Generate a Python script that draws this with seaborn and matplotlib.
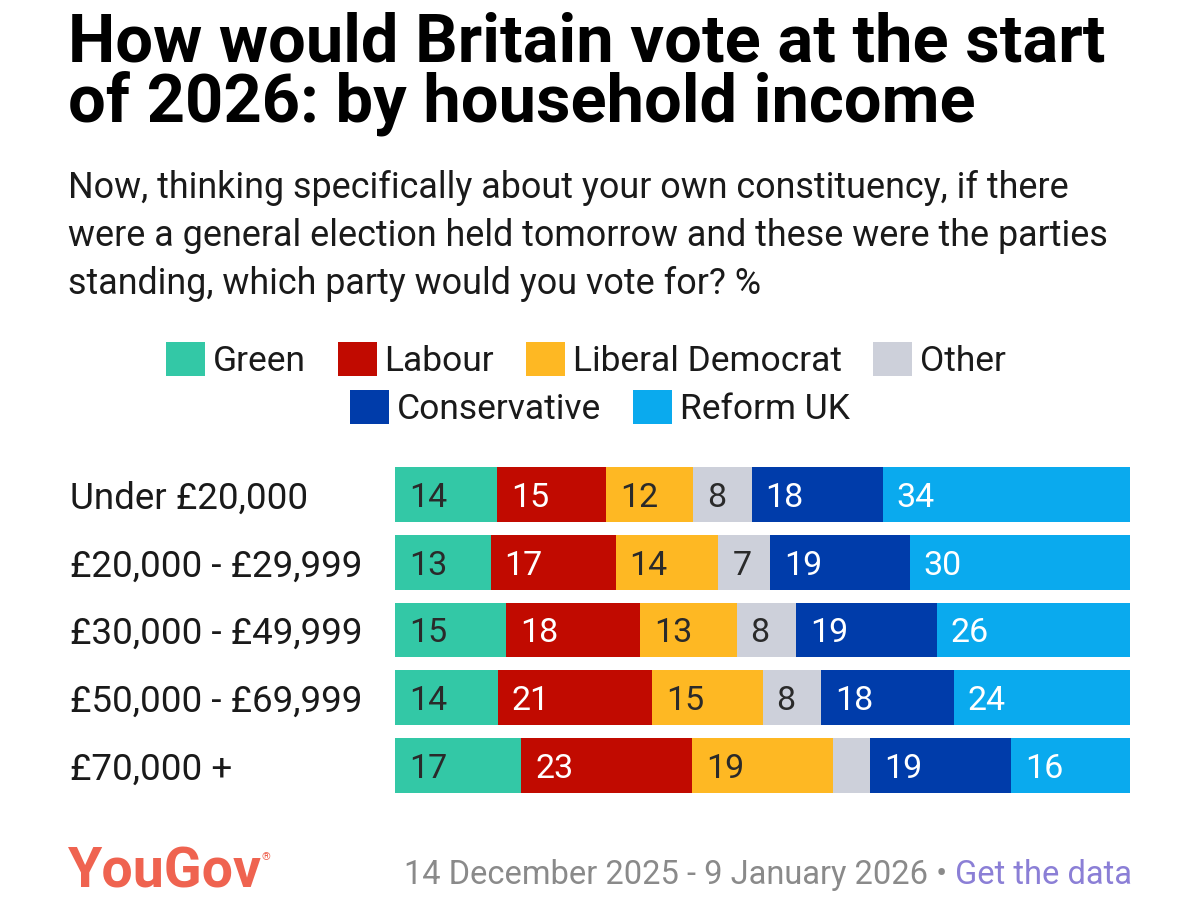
import matplotlib
matplotlib.use("Agg")
import matplotlib.pyplot as plt
from matplotlib.patches import Patch
import numpy as np
import pandas as pd
import seaborn as sns

# ---- data ----
groups = ["Under £20,000", "£20,000 - £29,999", "£30,000 - £49,999",
          "£50,000 - £69,999", "£70,000 +"]
parties = ["Green", "Labour", "Liberal Democrat", "Other", "Conservative", "Reform UK"]
green = [14, 13, 15, 14, 17]
labour = [15, 17, 18, 21, 23]
libdem = [12, 14, 13, 15, 19]
other = [8, 7, 8, 8, 5]
conservative = [18, 19, 19, 18, 19]
reform = [34, 30, 26, 24, 16]

colors = ["#33C8A6", "#C10A00", "#FEB823", "#CDD0DA", "#003CAA", "#0AAAEE"]
label_colors = ["#2a2a2a", "white", "#2a2a2a", "#2a2a2a", "white", "white"]

W, H = 1200, 915
sns.set_theme(style="white")
plt.rcParams["font.family"] = ["Roboto", "DejaVu Sans"]

fig = plt.figure(figsize=(W / 100, H / 100), dpi=100)
fig.patch.set_facecolor("white")

def fy(px):
    return 1 - px / H

def fx(px):
    return px / W

ax_left, ax_right = 395, 1130
ax_top, ax_bot = 460.6, 799.4
ax = fig.add_axes([fx(ax_left), fy(ax_bot), fx(ax_right - ax_left), (ax_bot - ax_top) / H])

vals = np.array([green, labour, libdem, other, conservative, reform], dtype=float).T
totals = vals.sum(axis=1, keepdims=True)
pct = vals / totals * 100
cum = np.cumsum(pct, axis=1)

# draw cumulative bars from the last (longest) to the first so each covers the previous
for j in range(len(parties) - 1, -1, -1):
    df = pd.DataFrame({"group": groups, "value": cum[:, j]})
    sns.barplot(data=df, x="value", y="group", order=groups, color=colors[j],
                saturation=1, width=0.81, linewidth=0, ax=ax, errorbar=None)

# value labels
for i, g in enumerate(groups):
    for j in range(len(parties)):
        v = vals[i, j]
        if v < 6:
            continue
        start = cum[i, j] - pct[i, j]
        ax.annotate(f"{int(v)}", xy=(start, i), xytext=(10, 0), textcoords="offset points",
                    ha="left", va="center_baseline", fontsize=24.5, color=label_colors[j])

ax.set_xlim(0, 100)
ax.set_ylim(4.5, -0.5)
ax.set_xlabel("")
ax.set_ylabel("")
ax.set_xticks([])
for s in ax.spines.values():
    s.set_visible(False)
ax.tick_params(axis="y", length=0, pad=(ax_left - 70) * 0.72, labelsize=26.5, labelcolor="#1a1a1a")
for lab in ax.get_yticklabels():
    lab.set_ha("left")

# title & subtitle
fig.text(fx(68), fy(61), "How would Britain vote at the start", fontsize=48.2,
         fontweight="bold", color="black", va="baseline", ha="left")
fig.text(fx(68), fy(122), "of 2026: by household income", fontsize=48.2,
         fontweight="bold", color="black", va="baseline", ha="left")
subs = ["Now, thinking specifically about your own constituency, if there",
        "were a general election held tomorrow and these were the parties",
        "standing, which party would you vote for? %"]
for k, s in enumerate(subs):
    fig.text(fx(68), fy(198 + 48 * k), s, fontsize=25.8, color="#1a1a1a",
             va="baseline", ha="left")

# legend
handles = [Patch(facecolor=c, edgecolor="none") for c in colors]
leg_kw = dict(frameon=False, fontsize=25.5, handlelength=1.1, handleheight=1.1,
              handletextpad=0.22, columnspacing=0.9, borderpad=0, labelcolor="#1a1a1a")
l1 = fig.legend(handles[:4], parties[:4], ncol=4, loc="center",
                bbox_to_anchor=(fx(586), fy(360)), **leg_kw)
l2 = fig.legend(handles[4:], parties[4:], ncol=2, loc="center",
                bbox_to_anchor=(fx(600), fy(408)), **leg_kw)

# footer
fig.text(fx(68), fy(888), "YouGov", fontsize=40, fontweight="bold", color="#EF6350",
         va="baseline", ha="left")
fig.text(fx(262), fy(860), "®", fontsize=8, color="#EF6350", va="baseline", ha="left")
t2 = fig.text(fx(1132), fy(884), "Get the data", fontsize=23.5, color="#8B7FD6",
              va="baseline", ha="right")
fig.canvas.draw()
bb = t2.get_window_extent()
fig.text(bb.x0 / W, fy(884), "14 December 2025 - 9 January 2026 • ", fontsize=23.5,
         color="#8a8a8a", va="baseline", ha="right")

fig.savefig("out.png", dpi=100, facecolor="white")
